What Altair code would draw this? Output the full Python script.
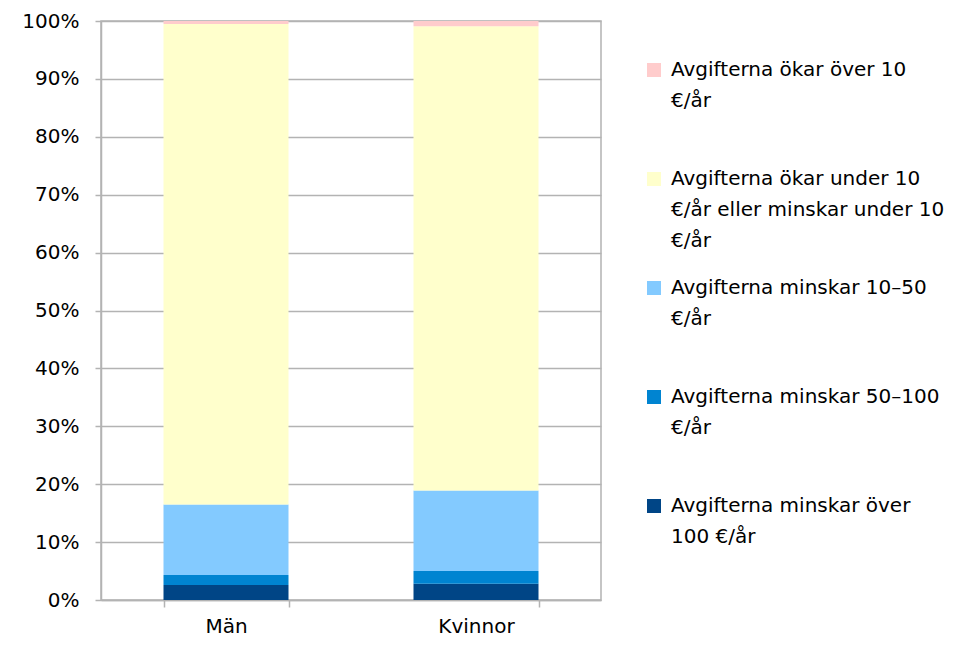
import altair as alt
import pandas as pd

categories = ["Män", "Kvinnor"]

# series, bottom of stack first
series = [
    "Avgifterna minskar över\n100 €/år",
    "Avgifterna minskar 50–100\n€/år",
    "Avgifterna minskar 10–50\n€/år",
    "Avgifterna ökar under 10\n€/år eller minskar under 10\n€/år",
    "Avgifterna ökar över 10\n€/år",
]
colors = ["#004586", "#0084D1", "#83CAFF", "#FFFFCC", "#FFCCCC"]

v_over100 = [2.6, 2.8]
v_50_100 = [1.7, 2.2]
v_10_50 = [12.2, 13.9]
v_under10 = [83.0, 80.2]
v_oka_over10 = [0.5, 0.9]

y_ticks = [0, 10, 20, 30, 40, 50, 60, 70, 80, 90, 100]

values = [v_over100, v_50_100, v_10_50, v_under10, v_oka_over10]
rows = []
for si, (name, vals) in enumerate(zip(series, values)):
    for ci, cat in enumerate(categories):
        rows.append({"kategori": cat, "serie": name, "andel": vals[ci], "ordning": si})
df = pd.DataFrame(rows)

legend_order = list(reversed(series))
legend_colors = list(reversed(colors))

grey = "#b3b3b3"

chart = (
    alt.Chart(df)
    .mark_bar()
    .encode(
        x=alt.X(
            "kategori:N",
            sort=categories,
            scale=alt.Scale(paddingInner=0.5, paddingOuter=0.25),
            axis=alt.Axis(
                title=None,
                labelAngle=0,
                tickBand="extent",
                grid=False,
                tickSize=7,
                labelPadding=9,
            ),
        ),
        y=alt.Y(
            "andel:Q",
            stack="zero",
            scale=alt.Scale(domain=[0, 100], nice=False),
            axis=alt.Axis(
                title=None,
                values=y_ticks,
                labelExpr="datum.value + '%'",
                tickSize=6,
                labelPadding=16,
                grid=True,
            ),
        ),
        color=alt.Color(
            "serie:N",
            scale=alt.Scale(domain=legend_order, range=legend_colors),
            legend=alt.Legend(
                title=None,
                orient="none",
                legendX=543,
                legendY=39,
                symbolType="square",
                symbolSize=196,
                symbolStrokeWidth=0,
                symbolOpacity=1,
                labelOffset=7,
                labelLimit=500,
                rowPadding=27,
                padding=0,
                labelExpr="split(datum.label + (length(split(datum.label, '\\n')) < 3 ? '\\n ' : ''), '\\n')",
            ),
        ),
        order=alt.Order("ordning:Q", sort="ascending"),
    )
    .properties(
        width=500,
        height=579,
        autosize=alt.AutoSizeParams(type="none"),
        padding={"left": 93, "top": 13, "right": 356, "bottom": 37},
    )
    .configure(
        font="DejaVu Sans",
        style={"guide-label": {"lineHeight": 31}},
    )
    .configure_view(stroke=grey, strokeWidth=1.5)
    .configure_axis(
        labelFont="DejaVu Sans",
        labelFontSize=20,
        labelColor="#000000",
        domainColor=grey,
        domainWidth=1.5,
        tickColor=grey,
        tickWidth=1.5,
        gridColor=grey,
        gridWidth=1.5,
    )
    .configure_legend(
        labelFont="DejaVu Sans",
        labelFontSize=20,
        labelColor="#000000",
        labelBaseline="middle",
    )
)

chart.save("out.html", embed_options={"renderer": "svg", "actions": False})
